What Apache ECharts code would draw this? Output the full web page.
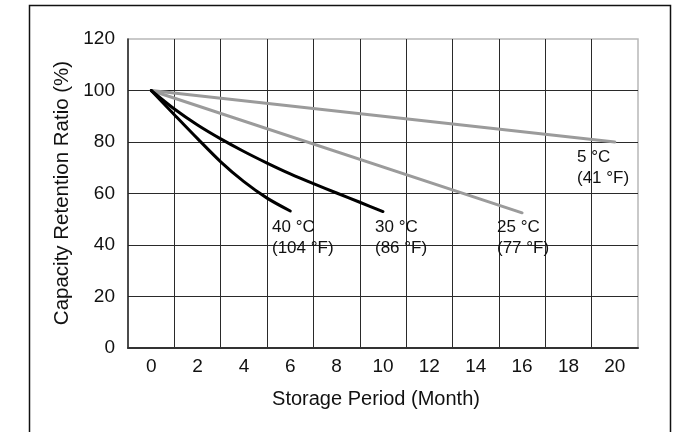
<!DOCTYPE html>
<html><head><meta charset="utf-8">
<script src="https://cdn.jsdelivr.net/npm/echarts@6/dist/echarts.min.js"></script>
<style>html,body{margin:0;padding:0;background:#fff}#c{width:690px;height:432px}</style>
</head><body><div id="c"></div>
<script>
// ---- data ----
const xTickLabels = [0, 2, 4, 6, 8, 10, 12, 14, 16, 18, 20];
const yTickLabels = [0, 20, 40, 60, 80, 100, 120];
const months5 = [0, 20];
const cap5 = [100, 80];
const months25 = [0, 16];
const cap25 = [100, 52.5];
const months30 = [0, 1, 2, 3, 4, 5, 6, 7, 8, 9, 10];
const cap30 = [100, 92.8, 86.6, 81.2, 76.3, 71.8, 67.6, 63.8, 60.2, 56.6, 53];
const months40 = [0, 1, 2, 3, 4, 5, 6];
const cap40 = [100, 90.6, 81.3, 72.3, 64.6, 58.2, 53.2];
const seriesNames = ['5 °C (41 °F)', '25 °C (77 °F)', '30 °C (86 °F)', '40 °C (104 °F)'];
const annotationTexts = ['5 °C\n(41 °F)', '25 °C\n(77 °F)', '30 °C\n(86 °F)', '40 °C\n(104 °F)'];
const xTitle = 'Storage Period (Month)';
const yTitle = 'Capacity Retention Ratio (%)';

const FONT = "'Liberation Sans', Arial, Helvetica, sans-serif";
const zip = (a, b) => a.map((v, i) => [v, b[i]]);
const GRID = '#2a2a2a';
const LIGHT = '#b8b8b8';
const GRAYLINE = '#9b9b9b';

const chart = echarts.init(document.getElementById('c'), null, {renderer: 'canvas'});

function mkSeries(name, xs, ys, color, smooth) {
  return {
    name, type: 'line', xAxisIndex: 0, yAxisIndex: 0,
    data: zip(xs, ys), showSymbol: false, symbol: 'none',
    smooth: smooth ? 0.3 : false,
    lineStyle: {color, width: 3, cap: 'round', join: 'round'},
    itemStyle: {color}, z: 5, silent: true
  };
}

const annPos = [[577, 147], [497, 217], [375, 217], [272, 217]];

chart.setOption({
  animation: false,
  backgroundColor: '#fff',
  grid: {left: 128, right: 52, top: 39, bottom: 84, show: true, borderColor: LIGHT, borderWidth: 1.5, backgroundColor: 'transparent'},
  xAxis: [{
    type: 'value', min: -1, max: 21, interval: 1, position: 'bottom',
    axisLine: {show: true, onZero: false, lineStyle: {color: '#333', width: 2}},
    axisTick: {show: false},
    splitLine: {show: false},
    axisLabel: {
      show: true, margin: 9, fontSize: 19, color: '#111', fontFamily: FONT,
      showMinLabel: true, showMaxLabel: true,
      formatter: v => (xTickLabels.indexOf(v) >= 0 ? String(v) : '')
    }
  }, {
    type: 'value', min: -1, max: 21, interval: 2, position: 'bottom',
    axisLine: {show: false}, axisTick: {show: false}, axisLabel: {show: false},
    splitLine: {show: true, showMinLine: false, showMaxLine: false, lineStyle: {color: GRID, width: 1}}
  }],
  yAxis: [{
    type: 'value', min: 0, max: 120, interval: 20,
    axisLine: {show: true, onZero: false, lineStyle: {color: '#222', width: 1.5}},
    axisTick: {show: false},
    splitLine: {show: true, showMinLine: false, showMaxLine: false, lineStyle: {color: GRID, width: 1}},
    axisLabel: {
      margin: 13, fontSize: 19, color: '#111', fontFamily: FONT,
      formatter: v => (yTickLabels.indexOf(v) >= 0 ? String(v) : '')
    }
  }],
  series: [
    mkSeries(seriesNames[0], months5, cap5, GRAYLINE, false),
    mkSeries(seriesNames[1], months25, cap25, GRAYLINE, false),
    mkSeries(seriesNames[2], months30, cap30, '#000', true),
    mkSeries(seriesNames[3], months40, cap40, '#000', true)
  ],
  graphic: [
    {type: 'rect', z: 100, silent: true,
     shape: {x: 29.5, y: 5.5, width: 641, height: 500},
     style: {fill: 'none', stroke: '#111', lineWidth: 1.5}},
    {type: 'text', z: 100, x: 376, y: 399, silent: true,
     style: {text: xTitle, fill: '#111', font: '20px ' + FONT, align: 'center', verticalAlign: 'middle'}},
    {type: 'text', z: 100, x: 62, y: 193, rotation: Math.PI / 2, silent: true,
     style: {text: yTitle, fill: '#111', font: '20.5px ' + FONT, align: 'center', verticalAlign: 'middle'}}
  ].concat(annotationTexts.map((t, i) => ({
    type: 'text', z: 100, x: annPos[i][0], y: annPos[i][1], silent: true,
    style: {text: t, fill: '#111', font: '17px ' + FONT, lineHeight: 21, align: 'left', verticalAlign: 'top'}
  })))
});
</script>
</body></html>
